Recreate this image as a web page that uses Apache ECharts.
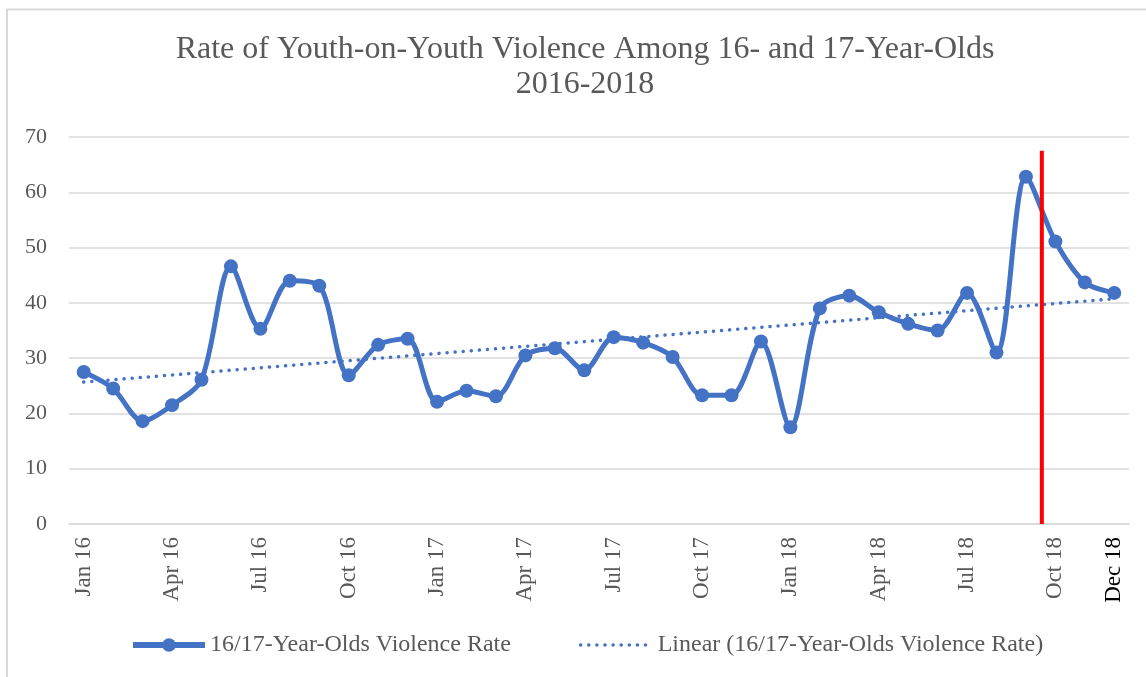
<!DOCTYPE html>
<html>
<head>
<meta charset="utf-8">
<title>Rate of Youth-on-Youth Violence Among 16- and 17-Year-Olds</title>
<script src="https://cdn.jsdelivr.net/npm/echarts@6/dist/echarts.min.js"></script>
<style>
  html, body { margin: 0; padding: 0; background: #fff; }
  #chart { width: 1146px; height: 677px; }
</style>
</head>
<body>
<div id="chart"></div>
<script>
// Monthly rates, Jan 2016 - Dec 2018
const months = [
  'Jan 16','Feb 16','Mar 16','Apr 16','May 16','Jun 16','Jul 16','Aug 16','Sep 16','Oct 16','Nov 16','Dec 16',
  'Jan 17','Feb 17','Mar 17','Apr 17','May 17','Jun 17','Jul 17','Aug 17','Sep 17','Oct 17','Nov 17','Dec 17',
  'Jan 18','Feb 18','Mar 18','Apr 18','May 18','Jun 18','Jul 18','Aug 18','Sep 18','Oct 18','Nov 18','Dec 18'
];
const violenceRate = [
  27.5, 24.5, 18.6, 21.5, 26.1, 46.6, 35.3, 44.0, 43.1, 26.9, 32.4, 33.5,
  22.1, 24.1, 23.1, 30.5, 31.8, 27.8, 33.8, 32.8, 30.2, 23.3, 23.3, 33.0,
  17.5, 39.0, 41.3, 38.3, 36.2, 35.0, 41.8, 31.0, 62.8, 51.1, 43.7, 41.8
];
// Month labels shown on the axis
const shownLabels = ['Jan 16','Apr 16','Jul 16','Oct 16','Jan 17','Apr 17','Jul 17','Oct 17','Jan 18','Apr 18','Jul 18','Oct 18','Dec 18'];
const yTicks = { min: 0, max: 70, interval: 10 };
// Vertical marker between Sep 18 and Oct 18 (in month-index units)
const markerPosition = 32.54;
const markerTop = 67.5;
const chartTitle = 'Rate of Youth-on-Youth Violence Among 16- and 17-Year-Olds\n2016-2018';

// Least-squares linear trend over the monthly series
function linearTrend(values) {
  const n = values.length;
  let sx = 0, sy = 0, sxx = 0, sxy = 0;
  values.forEach((v, i) => { sx += i; sy += v; sxx += i * i; sxy += i * v; });
  const slope = (n * sxy - sx * sy) / (n * sxx - sx * sx);
  const intercept = (sy - slope * sx) / n;
  return [[0, intercept], [n - 1, intercept + slope * (n - 1)]];
}

const blue = '#4472c4';
const grey = '#595959';
const serif = '"Liberation Serif", "Times New Roman", serif';
const seriesName = '16/17-Year-Olds Violence Rate';
const trendName = 'Linear (16/17-Year-Olds Violence Rate)';

const chart = echarts.init(document.getElementById('chart'));
chart.setOption({
  animation: false,
  backgroundColor: '#fff',
  graphic: [
    { type: 'line', shape: { x1: 6, y1: 9.5, x2: 1146, y2: 9.5 }, style: { stroke: '#d9d9d9', lineWidth: 2 } },
    { type: 'line', shape: { x1: 7, y1: 9, x2: 7, y2: 677 }, style: { stroke: '#d9d9d9', lineWidth: 2 } },
    {
      type: 'text',
      x: 585,
      y: 32,
      style: {
        text: chartTitle,
        align: 'center',
        verticalAlign: 'top',
        fontFamily: serif,
        fontSize: 32,
        lineHeight: 35,
        fill: grey
      }
    }
  ],
  legend: {
    data: [
      { name: seriesName, lineStyle: { width: 6 } },
      { name: trendName, itemStyle: { opacity: 0 }, lineStyle: { width: 3.5 } }
    ],
    bottom: 15,
    left: 125,
    itemWidth: 72,
    itemHeight: 17,
    itemGap: 68,
    textStyle: { fontFamily: serif, fontSize: 24, color: grey }
  },
  grid: { left: 69, right: 17, top: 137, bottom: 153 },
  xAxis: [
    {
      type: 'category',
      data: months,
      boundaryGap: true,
      axisLine: { lineStyle: { color: '#d9d9d9', width: 1.5 } },
      axisTick: { show: false },
      axisLabel: {
        rotate: 90,
        interval: (idx, val) => shownLabels.indexOf(val) >= 0,
        fontFamily: serif,
        fontSize: 23,
        margin: 13,
        color: (val) => (val === 'Dec 18' ? '#000' : grey)
      }
    },
    {
      type: 'value',
      min: -0.5,
      max: months.length - 0.5,
      show: false
    }
  ],
  yAxis: {
    type: 'value',
    min: yTicks.min,
    max: yTicks.max,
    interval: yTicks.interval,
    axisLine: { show: false },
    axisTick: { show: false },
    splitLine: { lineStyle: { color: '#d9d9d9', width: 1.5 } },
    axisLabel: { fontFamily: serif, fontSize: 22, color: grey, margin: 22 }
  },
  series: [
    {
      name: trendName,
      type: 'line',
      xAxisIndex: 1,
      data: linearTrend(violenceRate),
      symbol: 'none',
      z: 2,
      lineStyle: { color: blue, width: 3.5, type: [0.1, 8], cap: 'round' },
      itemStyle: { color: blue }
    },
    {
      name: seriesName,
      type: 'line',
      data: violenceRate,
      smooth: 0.3,
      symbol: 'circle',
      symbolSize: 14,
      z: 3,
      lineStyle: { color: blue, width: 5 },
      itemStyle: { color: blue }
    },
    {
      name: 'marker',
      type: 'line',
      xAxisIndex: 1,
      data: [[markerPosition, 0], [markerPosition, markerTop]],
      symbol: 'none',
      z: 4,
      lineStyle: { color: '#ff0000', width: 4 }
    }
  ]
});
</script>
</body>
</html>
